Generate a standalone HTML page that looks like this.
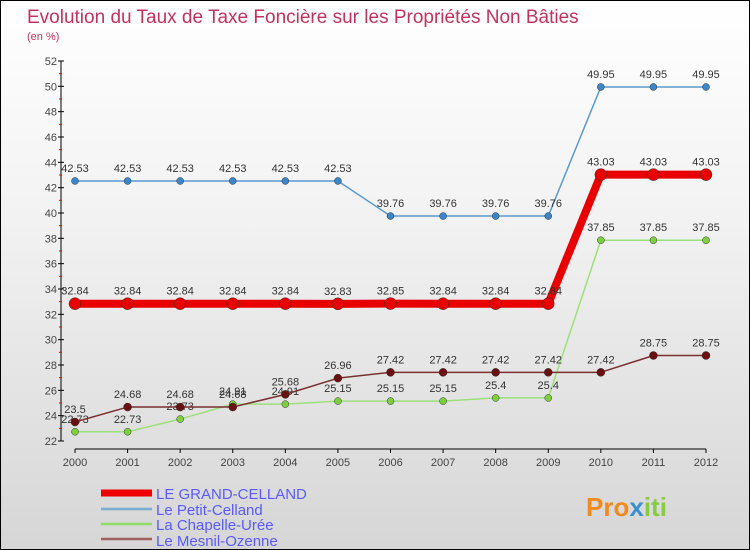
<!DOCTYPE html>
<html><head><meta charset="utf-8"><style>
body{margin:0}
#c{position:relative;width:748px;height:548px;border:1px solid #000;background:linear-gradient(#fff,#f2f2f2 40%,#d6d6d6);font-family:"Liberation Sans",sans-serif;overflow:hidden}
</style></head><body>
<div id="c">
<svg id="s" width="748" height="548" xmlns="http://www.w3.org/2000/svg" font-family="Liberation Sans, sans-serif">
<text x="26" y="22" font-size="19" fill="#c0335e">Evolution du Taux de Taxe Foncière sur les Propriétés Non Bâties</text>
<text x="26" y="39" font-size="11" fill="#c0335e">(en %)</text>
<g id="axes"></g><g id="series"></g>
<g>
<line x1="100" y1="492" x2="151" y2="492" stroke="#e00" stroke-width="7"/>
<text x="155" y="498" font-size="15" fill="#5a5aff">LE GRAND-CELLAND</text>
<line x1="100" y1="508" x2="151" y2="508" stroke="#7aaed0" stroke-width="2.5"/>
<text x="155" y="514" font-size="15" fill="#5a5aff">Le Petit-Celland</text>
<line x1="100" y1="523" x2="151" y2="523" stroke="#8fdc6a" stroke-width="2.5"/>
<text x="155" y="529" font-size="15" fill="#5a5aff">La Chapelle-Urée</text>
<line x1="100" y1="538" x2="151" y2="538" stroke="#a06060" stroke-width="2.5"/>
<text x="155" y="545" font-size="15" fill="#5a5aff">Le Mesnil-Ozenne</text>
</g>
<text x="585" y="515" font-size="26" font-weight="bold" fill="#f08a20">Pro<tspan fill="#3a8fd0">x</tspan><tspan fill="#8c4">iti</tspan></text>
</svg>
</div>
<script>
const years=["2000","2001","2002","2003","2004","2005","2006","2007","2008","2009","2010","2011","2012"];
const yTicks=[22,24,26,28,30,32,34,36,38,40,42,44,46,48,50,52];
const grand=[32.84,32.84,32.84,32.84,32.84,32.83,32.85,32.84,32.84,32.84,43.03,43.03,43.03];
const petit=[42.53,42.53,42.53,42.53,42.53,42.53,39.76,39.76,39.76,39.76,49.95,49.95,49.95];
const chapelle=[22.73,22.73,23.73,24.91,24.91,25.15,25.15,25.15,25.4,25.4,37.85,37.85,37.85];
const mesnil=[23.5,24.68,24.68,24.68,25.68,26.96,27.42,27.42,27.42,27.42,27.42,28.75,28.75];
const NS="http://www.w3.org/2000/svg";
const X=i=>74+i*(631/12);
const Y=v=>440-(v-22)*(380/30);
function mk(p,t,a){const e=document.createElementNS(NS,t);for(const k in a)e.setAttribute(k,a[k]);p.appendChild(e);return e;}
const ax=document.getElementById('axes');
let e=mk(ax,'line',{x1:60,y1:Y(52),x2:60,y2:Y(22),stroke:'#000'});


e=mk(ax,'line',{x1:X(0),y1:448,x2:X(12),y2:448,stroke:'#000'});


yTicks.forEach(v=>{mk(ax,'line',{x1:57,y1:Y(v),x2:63,y2:Y(v),stroke:'#000'});
 if(v<52)mk(ax,'line',{x1:58,y1:Y(v+1),x2:61,y2:Y(v+1),stroke:'#f00'});
 const t=mk(ax,'text',{x:56,y:Y(v)+4,'font-size':11,fill:'#444','text-anchor':'end'});t.textContent=v;
 
 });
years.forEach((y,i)=>{mk(ax,'line',{x1:X(i),y1:448,x2:X(i),y2:452,stroke:'#000'});
 const t=mk(ax,'text',{x:X(i),y:465,'font-size':11,fill:'#444','text-anchor':'middle'});t.textContent=y;
 
 });
const sg=document.getElementById('series');
function series(d,name,col,w,pc,r,showPts){
 const g=mk(sg,'g',{});
 
 
 mk(g,'polyline',{points:d.map((v,i)=>X(i)+','+Y(v)).join(' '),fill:'none',stroke:col,'stroke-width':w,'stroke-linejoin':'round'});
 d.forEach((v,i)=>{const c=mk(g,'circle',{cx:X(i),cy:Y(v),r:r,fill:pc,stroke:'#333','stroke-width':0.5});
  
  
  const t=mk(g,'text',{x:X(i),y:Y(v)-9,'font-size':11,fill:'#333','text-anchor':'middle'});t.textContent=v;
  
  });
}
series(petit,'le-petit-celland','#5a9ad0',1.5,'#3a86c8',3.5);
series(chapelle,'la-chapelle-uree','#9ce07a',1.5,'#7cd040',3.5);
series(mesnil,'le-mesnil-ozenne','#7a3030',1.5,'#6a1010',4);
series(grand,'le-grand-celland','#e80000',8,'#e80000',6);
</script>
</body></html>
